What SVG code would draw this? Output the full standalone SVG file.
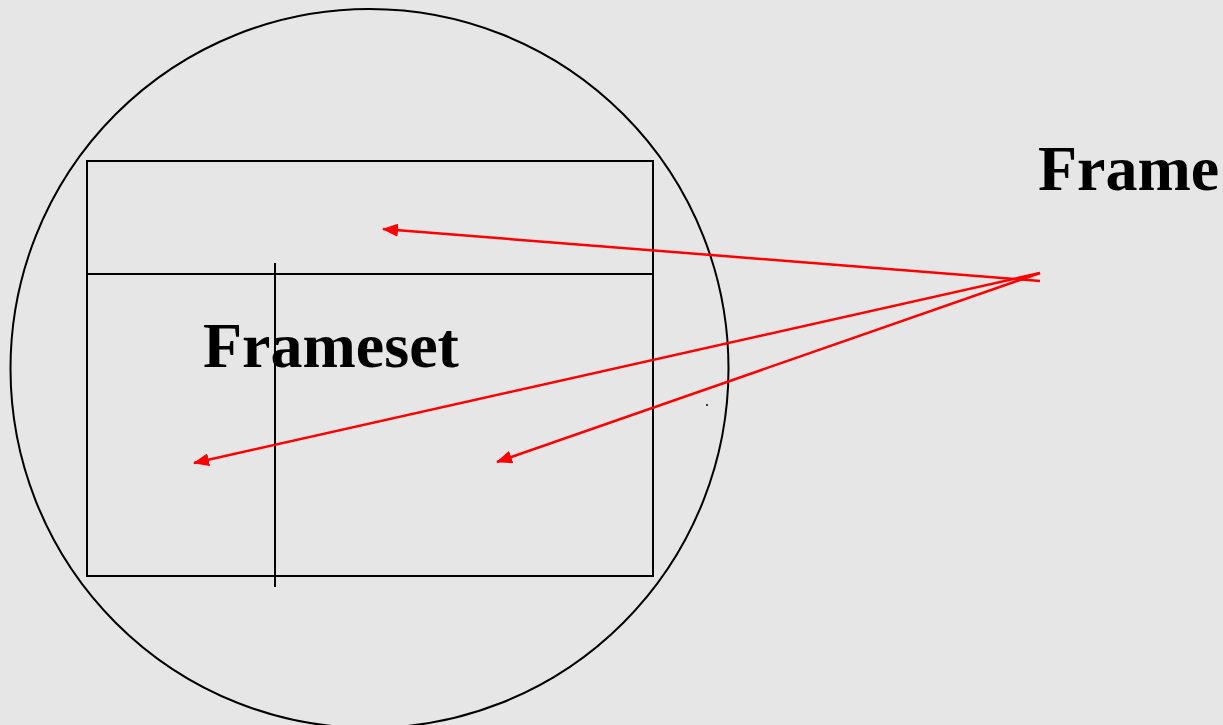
<svg xmlns="http://www.w3.org/2000/svg" width="1223" height="725" viewBox="0 0 1223 725">
<style>
.k{fill:none;stroke:#000;stroke-width:2}
.r{fill:none;stroke:#f00;stroke-width:2.5}
.t{font-family:"Liberation Serif",serif;font-weight:bold;fill:#000}
</style>
<defs>
<marker id="ah" viewBox="0 0 16 13" refX="15" refY="6.5" markerWidth="16" markerHeight="13" orient="auto" markerUnits="userSpaceOnUse">
<path d="M0,0L16,6.5L0,13z" fill="#f00"/>
</marker>
</defs>
<rect width="1223" height="725" fill="#e6e6e6"/>
<g id="frameset">
<ellipse class="k" cx="369.5" cy="368.5" rx="359" ry="359.5"/>
<rect class="k" x="87" y="161" width="566" height="415"/>
<line class="k" x1="87" y1="274" x2="653" y2="274"/>
<line class="k" x1="275" y1="263" x2="275" y2="587"/>
<text class="t" x="203" y="367" font-size="64">Frameset</text>
<circle cx="707" cy="405" r="1" fill="#000"/>
</g>
<g id="frame">
<text class="t" x="1038" y="190" font-size="64">Frame</text>
</g>
<g id="connectors">
<line class="r" x1="1040" y1="281" x2="383" y2="229" marker-end="url(#ah)"/>
<line class="r" x1="1040" y1="273" x2="194" y2="463" marker-end="url(#ah)"/>
<line class="r" x1="1040" y1="273" x2="497" y2="462" marker-end="url(#ah)"/>
</g>
</svg>
